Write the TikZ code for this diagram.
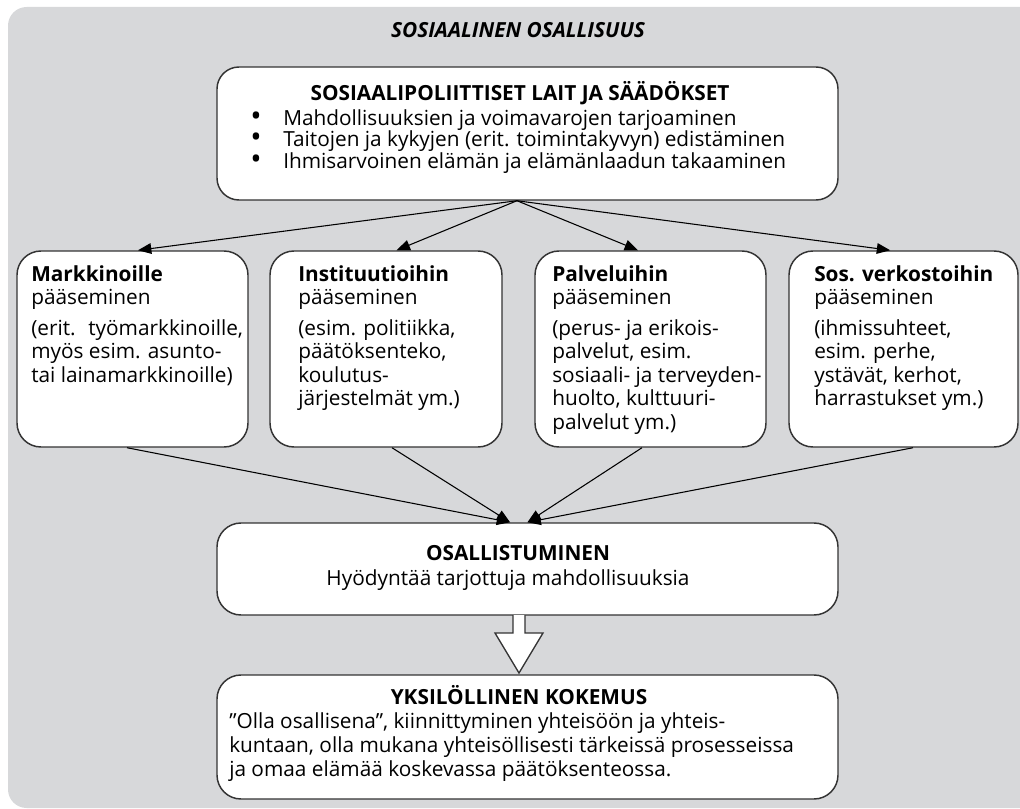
\documentclass[tikz,border=0pt]{standalone}
\usepackage{fontspec}
\setmainfont{Open Sans}
\usetikzlibrary{arrows.meta}
\definecolor{bggray}{HTML}{D7D8DA}
\definecolor{edgegray}{HTML}{333333}
\newcommand\bul{\makebox[24.75pt][l]{\raisebox{-0.05em}{\scalebox{1.45}{\textbullet}}}}
\begin{document}
\begin{tikzpicture}[x=0.75pt,y=-0.75pt,
  every node/.style={inner sep=0pt, font=\fontsize{15.6}{17.6}\selectfont},
  box/.style={draw=edgegray, line width=1.1pt, fill=white, rounded corners=18pt},
  txt/.style={align=left, anchor=north west},
  head/.style={anchor=base, font=\fontsize{15.6}{17.6}\selectfont\bfseries},
  link/.style={line width=0.8pt, -{Triangle[length=10pt,width=8pt]}}]
\useasboundingbox (0,0) rectangle (1020,809);
\fill[bggray, rounded corners=14pt] (8,7) rectangle (1060,808);
\node[head, font=\fontsize{15.6}{17.6}\selectfont\bfseries\itshape] (title) at (518,38) {SOSIAALINEN OSALLISUUS};

% laki
\node[box, rounded corners=16.5pt, minimum width=465.75pt, minimum height=99.75pt] (lait) at (527.5,133.5) {};
\node[head] (laithead) at (520,101) {SOSIAALIPOLIITTISET LAIT JA SÄÄDÖKSET};
\node[txt, font=\fontsize{15.6}{16.1}\selectfont] (laitlist) at (250,109) {\bul Mahdollisuuksien ja voimavarojen tarjoaminen\\
  \bul Taitojen ja kykyjen (erit. toimintakyvyn) edistäminen\\
  \bul Ihmisarvoinen elämän ja elämänlaadun takaaminen};
\coordinate (fork) at ([xshift=-7.9pt]lait.south);

% neljä pääsyä
\node[box, minimum width=173.25pt, minimum height=147pt] (markk) at (132.5,349) {};
\node[box, minimum width=174pt, minimum height=147pt] (inst) at (386,349) {};
\node[box, minimum width=173.25pt, minimum height=147pt] (palv) at (650.5,349) {};
\node[box, minimum width=171.75pt, minimum height=147pt] (verk) at (903.5,349) {};
\node[txt] (markkt) at (31,265) {\textbf{Markkinoille}\\pääseminen\\[5.5pt](erit.~ työmarkkinoille,\\myös esim. asunto-\\tai lainamarkkinoille)};
\node[txt] (instt) at (298,265) {\textbf{Instituutioihin}\\pääseminen\\[5.5pt](esim. politiikka,\\päätöksenteko,\\koulutus-\\järjestelmät ym.)};
\node[txt] (palvt) at (552,265) {\textbf{Palveluihin}\\pääseminen\\[5.5pt](perus- ja erikois-\\palvelut, esim.\\sosiaali- ja terveyden-\\huolto, kulttuuri-\\palvelut ym.)};
\node[txt] (verkt) at (814,265) {\textbf{Sos. verkostoihin}\\pääseminen\\[5.5pt](ihmissuhteet,\\esim. perhe,\\ystävät, kerhot,\\harrastukset ym.)};

% osallistuminen
\node[box, minimum width=465.75pt, minimum height=69pt] (osall) at (527.5,569) {};
\node[head] (osallhead) at (518,560) {OSALLISTUMINEN};
\node[anchor=base] (osallsub) at (508,585) {Hyödyntää tarjottuja mahdollisuuksia};

% kokemus
\node[box, minimum width=465.75pt, minimum height=93pt] (kok) at (527.5,737) {};
\node[head] (kokhead) at (519,704) {YKSILÖLLINEN KOKEMUS};
\node[txt, font=\fontsize{15.6}{18}\selectfont] (koktext) at (229,712) {”Olla osallisena”, kiinnittyminen yhteisöön ja yhteis-\\kuntaan, olla mukana yhteisöllisesti tärkeissä prosesseissa\\ja omaa elämää koskevassa päätöksenteossa.};

% nuolet
\draw[link] (fork) -- ([xshift=4.1pt]markk.north);
\draw[link] (fork) -- ([xshift=8pt]inst.north);
\draw[link] (fork) -- ([xshift=-9.4pt]palv.north);
\draw[link] (fork) -- ([xshift=-10pt]verk.north);
\draw[link] ([xshift=-4.1pt]markk.south) -- ([xshift=-13.1pt]osall.north);
\draw[link] ([xshift=4.5pt]inst.south) -- ([xshift=-13.1pt]osall.north);
\draw[link] ([xshift=-6.4pt]palv.south) -- (osall.north);
\draw[link] ([xshift=7.1pt]verk.south) -- (osall.north);
\draw[draw=edgegray, line width=1pt, fill=white] (513,615) -- (513,633) -- (495,633) -- (519,673) -- (543,633) -- (525,633) -- (525,615);
\end{tikzpicture}
\end{document}
